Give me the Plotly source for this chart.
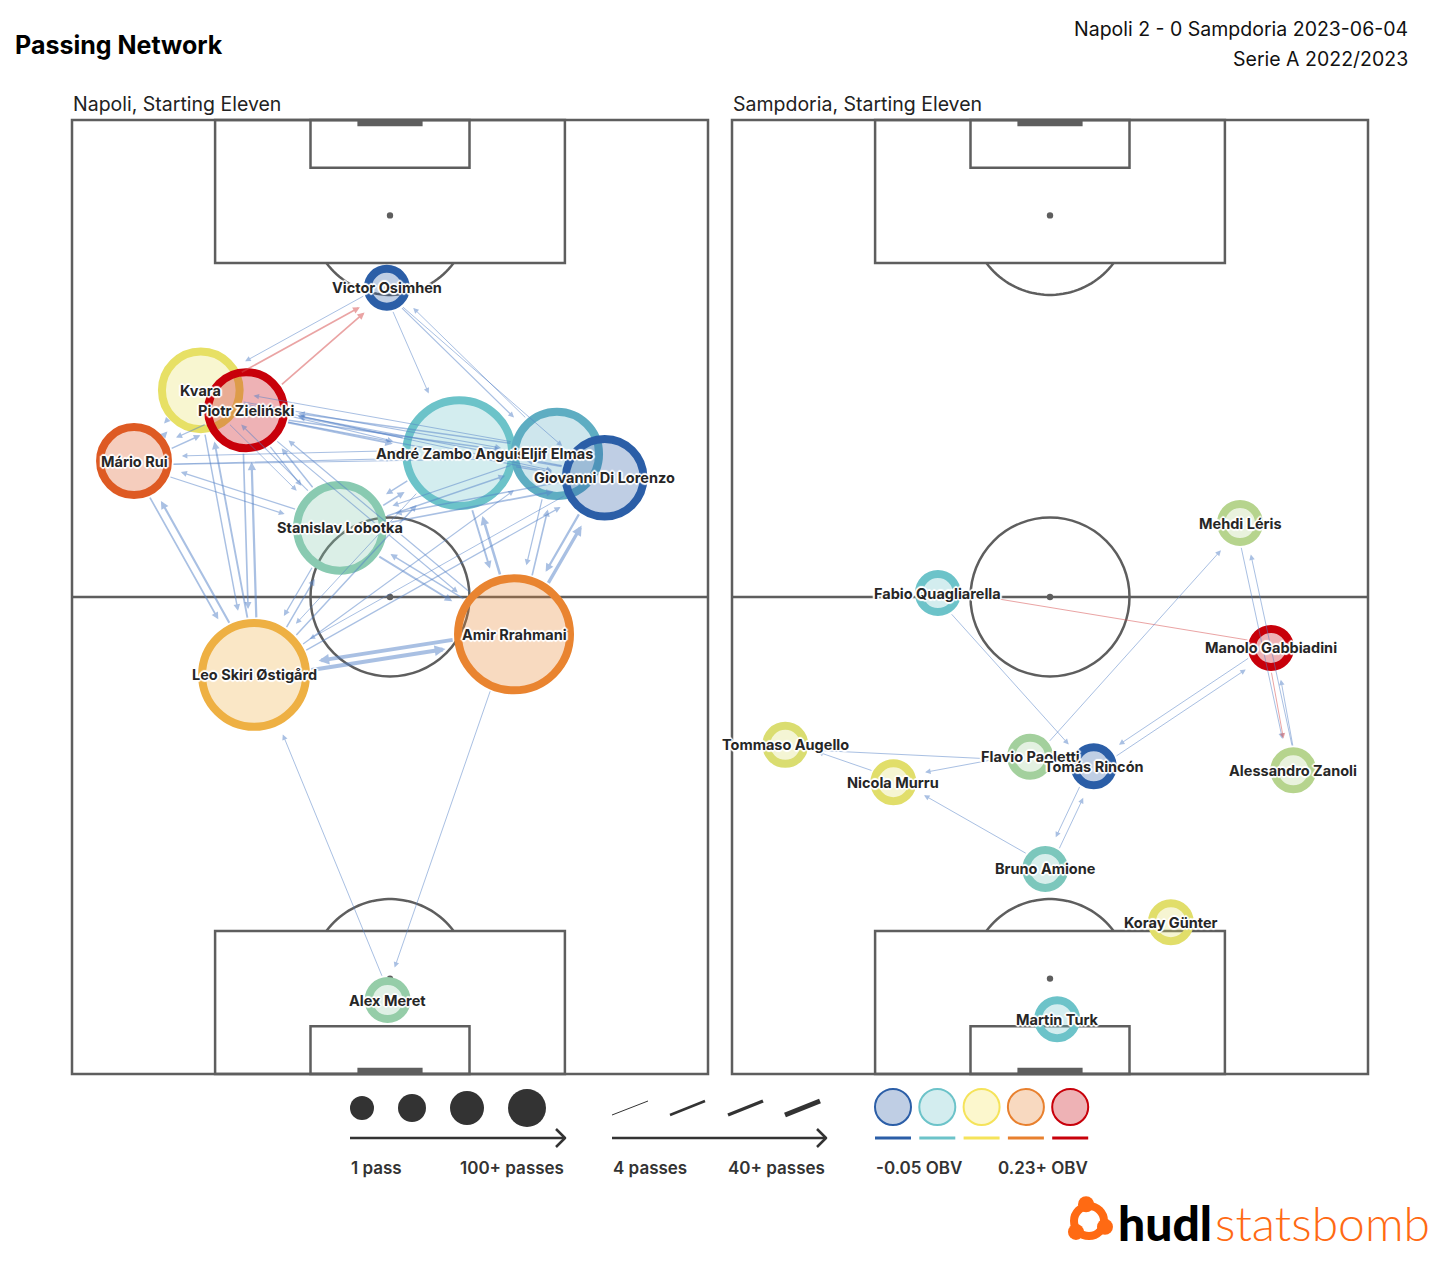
import numpy as np
import plotly.graph_objects as go

W, H = 1440, 1267

# ---------------- data ----------------
nap_codes = ["OS", "KV", "ZI", "MR", "AN", "EL", "DL", "LO", "RR", "OST", "ME"]
nap_names = ["Victor Osimhen", "Kvara", "Piotr Zieliński", "Mário Rui", "André Zambo Anguissa",
             "Eljif Elmas", "Giovanni Di Lorenzo", "Stanislav Lobotka", "Amir Rrahmani",
             "Leo Skiri Østigård", "Alex Meret"]
nap_x = [39.6, 16.2, 21.9, 7.8, 48.7, 61.0, 67.0, 33.7, 55.6, 22.9, 39.7]
nap_y = [98.9, 86.0, 83.5, 77.1, 78.1, 78.0, 75.0, 68.7, 55.3, 50.2, 9.3]
nap_passes = [12, 51, 49, 40, 90, 59, 51, 61, 100, 87, 14]
nap_obv = [-0.05, 0.083, 0.23, 0.181, 0.02, 0.005, -0.05, 0.035, 0.157, 0.126, 0.041]

nap_e_from = ["KV", "ZI", "OS", "OS", "OS", "EL", "OS", "ZI", "AN", "ZI", "EL", "ZI", "DL", "KV", "EL", "KV",
              "KV", "ZI", "LO", "KV", "LO", "MR", "LO", "KV", "MR", "MR", "ZI", "MR", "AN", "MR", "KV", "ZI",
              "ZI", "RR", "AN", "EL", "AN", "DL", "EL", "DL", "OST", "RR", "RR", "AN", "RR", "DL", "RR", "EL",
              "OST", "KV", "OST", "ZI", "OST", "MR", "OST", "LO", "LO", "RR", "LO", "AN", "LO", "DL", "LO", "EL",
              "OST", "AN", "OST", "OST", "DL", "ME", "RR"]
nap_e_to = ["OS", "OS", "KV", "AN", "EL", "OS", "DL", "AN", "ZI", "EL", "ZI", "DL", "ZI", "EL", "KV", "DL",
            "AN", "LO", "ZI", "LO", "KV", "LO", "MR", "MR", "KV", "ZI", "MR", "AN", "MR", "EL", "ZI", "KV",
            "RR", "ZI", "EL", "AN", "DL", "AN", "DL", "EL", "RR", "OST", "AN", "RR", "DL", "RR", "EL", "RR",
            "KV", "OST", "ZI", "OST", "MR", "OST", "LO", "OST", "RR", "LO", "AN", "LO", "DL", "LO", "EL", "LO",
            "AN", "OST", "EL", "DL", "OST", "OST", "ME"]
nap_e_count = [9, 10, 4, 4, 5, 4, 4, 12, 10, 8, 8, 6, 5, 5, 4, 4,
               5, 6, 8, 4, 5, 5, 6, 6, 8, 8, 6, 5, 4, 4, 6, 8,
               5, 6, 5, 4, 6, 8, 5, 6, 30, 28, 18, 12, 25, 15, 10, 6,
               12, 8, 15, 10, 14, 10, 8, 6, 12, 8, 10, 8, 10, 8, 8, 6,
               8, 4, 5, 6, 4, 4, 4]
nap_e_obv = [0.21, 0.22] + [0.01] * 69

sam_codes = ["FQ", "LER", "GAB", "ZAN", "AUG", "MUR", "PAO", "RIN", "AMI", "GUN", "TUR"]
sam_names = ["Fabio Quagliarella", "Mehdi Léris", "Manolo Gabbiadini", "Alessandro Zanoli",
             "Tommaso Augello", "Nicola Murru", "Flavio Paoletti", "Tomás Rincón", "Bruno Amione",
             "Koray Günter", "Martin Turk"]
sam_x = [25.9, 63.9, 67.8, 70.6, 6.7, 20.3, 37.5, 45.5, 39.4, 55.2, 40.9]
sam_y = [60.5, 69.3, 53.6, 38.2, 41.4, 36.7, 39.9, 38.7, 25.8, 19.1, 6.9]
sam_passes = [8, 10, 12, 13, 9, 11, 12, 14, 13, 9, 10]
sam_obv = [0.02, 0.058, 0.23, 0.058, 0.076, 0.08, 0.048, -0.05, 0.028, 0.08, 0.02]

sam_e_from = ["GAB", "FQ", "PAO", "LER", "ZAN", "GAB", "ZAN", "RIN", "GAB", "AUG", "PAO", "MUR", "AMI", "RIN", "AMI"]
sam_e_to = ["FQ", "RIN", "LER", "ZAN", "LER", "ZAN", "GAB", "GAB", "RIN", "PAO", "MUR", "AUG", "MUR", "AMI", "RIN"]
sam_e_count = [4] * 15
sam_e_obv = [0.2, 0.01, 0.01, 0.01, 0.01, 0.2, 0.01, 0.01, 0.01, 0.01, 0.01, 0.01, 0.01, 0.01, 0.01]

OBV_MIN, OBV_MAX = -0.05, 0.23

# ---------------- styling helpers ----------------
scale_hex = ["#2b5ea7", "#6cc3c9", "#f5e35a", "#e8802e", "#c8000a"]


def rgba(h, a):
    h = h.lstrip("#")
    r, g, b = int(h[0:2], 16), int(h[2:4], 16), int(h[4:6], 16)
    return f"rgba({r},{g},{b},{a})"


line_scale = [[i / 4, c] for i, c in enumerate(scale_hex)]
fill_scale = [[i / 4, rgba(c, 0.3)] for i, c in enumerate(scale_hex)]

RING = 8


def radius_px(p):
    return max(23.0, 6.0 * np.sqrt(p))


def edge_w(c):
    c = min(max(c, 4), 40)
    return 1.0 + 4.0 * (c - 4) / 36.0


def P(x, y):
    return x / W, 1 - y / H


FONT = "Inter, 'Noto Sans', sans-serif"
HALO = ("2px 0 1px #fff, -2px 0 1px #fff, 0 2px 1px #fff, 0 -2px 1px #fff, "
        "1px 1px 1px #fff, -1px -1px 1px #fff, 1px -1px 1px #fff, -1px 1px 1px #fff")

fig = go.Figure()
shapes = []
annots = []

# axes: pitch spans px x [x0, x0+636], y [120, 1074]; 1 unit = 7.95 px, padded 1 unit
U = 7.95
for k, x0 in ((1, 72), (2, 732)):
    xa = "xaxis" if k == 1 else "xaxis2"
    ya = "yaxis" if k == 1 else "yaxis2"
    fig.layout[xa] = dict(domain=[(x0 - U) / W, (x0 + 636 + U) / W], range=[-1, 81], visible=False,
                          fixedrange=True, anchor="y" if k == 1 else "y2")
    fig.layout[ya] = dict(domain=[1 - (1074 + U) / H, 1 - (120 - U) / H], range=[-1, 121], visible=False,
                          fixedrange=True, anchor="x" if k == 1 else "x2")


def pitch_shapes(xr, yr):
    lc, lw = "#5e5e5e", 2.5
    out = []

    def rect(x0, y0, x1, y1):
        out.append(dict(type="rect", xref=xr, yref=yr, x0=x0, y0=y0, x1=x1, y1=y1,
                        line=dict(color=lc, width=lw), layer="below"))

    rect(0, 0, 80, 120)
    out.append(dict(type="line", xref=xr, yref=yr, x0=0, y0=60, x1=80, y1=60,
                    line=dict(color=lc, width=lw), layer="below"))
    out.append(dict(type="circle", xref=xr, yref=yr, x0=30, y0=50, x1=50, y1=70,
                    line=dict(color=lc, width=lw), layer="below"))
    rect(18, 0, 62, 18)
    rect(18, 102, 62, 120)
    rect(30, 0, 50, 6)
    rect(30, 114, 50, 120)
    for cy in (12, 60, 108):
        out.append(dict(type="circle", xref=xr, yref=yr, x0=39.6, y0=cy - 0.4, x1=40.4, y1=cy + 0.4,
                        fillcolor=lc, line=dict(width=0), layer="below"))
    a0 = np.degrees(np.arcsin(0.6))
    t = np.radians(np.linspace(a0, 180 - a0, 40))
    pb = "M " + " L ".join(f"{40 + 10 * np.cos(v):.3f},{12 + 10 * np.sin(v):.3f}" for v in t)
    pt = "M " + " L ".join(f"{40 + 10 * np.cos(v):.3f},{108 - 10 * np.sin(v):.3f}" for v in t)
    for p in (pb, pt):
        out.append(dict(type="path", xref=xr, yref=yr, path=p, line=dict(color=lc, width=lw), layer="below"))
    out.append(dict(type="rect", xref=xr, yref=yr, x0=35.9, y0=119.2, x1=44.1, y1=120,
                    fillcolor=lc, line=dict(width=0), layer="below"))
    out.append(dict(type="rect", xref=xr, yref=yr, x0=35.9, y0=0, x1=44.1, y1=0.8,
                    fillcolor=lc, line=dict(width=0), layer="below"))
    return out


shapes += pitch_shapes("x", "y")
shapes += pitch_shapes("x2", "y2")


def network(codes, names, xs, ys, passes, obv, ef, et, ec, eo, xr, yr):
    radii = [radius_px(p) for p in passes]
    fig.add_trace(go.Scatter(
        x=xs, y=ys, xaxis=xr, yaxis=yr, mode="markers", hoverinfo="skip", showlegend=False,
        marker=dict(size=[2 * r - RING for r in radii], color=obv, colorscale=fill_scale,
                    cmin=OBV_MIN, cmax=OBV_MAX, showscale=False, opacity=1,
                    line=dict(color=obv, colorscale=line_scale, cmin=OBV_MIN, cmax=OBV_MAX, width=RING))))
    idx = {c: i for i, c in enumerate(codes)}
    for a, b, c, o in zip(ef, et, ec, eo):
        i, j = idx[a], idx[b]
        dx, dy = xs[j] - xs[i], ys[j] - ys[i]
        L = np.hypot(dx, dy)
        nx, ny = dy / L, -dx / L
        off = 0.5
        w = edge_w(c)
        col = "rgba(215,75,75,0.5)" if o >= 0.1 else "rgba(85,130,200,0.5)"
        annots.append(dict(x=xs[j] + nx * off, y=ys[j] + ny * off, ax=xs[i] + nx * off, ay=ys[i] + ny * off,
                           xref=xr, yref=yr, axref=xr, ayref=yr, text="", showarrow=True,
                           arrowhead=2, arrowsize=1.1 / np.sqrt(w), arrowwidth=w, arrowcolor=col,
                           standoff=radii[j] + 10, startstandoff=radii[i]))
    for n, x, y in zip(names, xs, ys):
        annots.append(dict(x=x, y=y, xref=xr, yref=yr, text=n, showarrow=False,
                           font=dict(family=FONT, size=14.5, color="#262626", weight=700, shadow=HALO)))


network(nap_codes, nap_names, nap_x, nap_y, nap_passes, nap_obv,
        nap_e_from, nap_e_to, nap_e_count, nap_e_obv, "x", "y")
network(sam_codes, sam_names, sam_x, sam_y, sam_passes, sam_obv,
        sam_e_from, sam_e_to, sam_e_count, sam_e_obv, "x2", "y2")


# ---------------- titles ----------------
def ptext(x, y, txt, size, anchor="left", color="#111", weight=400, family=FONT):
    px, py = P(x, y)
    annots.append(dict(x=px, y=py, xref="paper", yref="paper", text=txt, showarrow=False,
                       xanchor=anchor, yanchor="middle",
                       font=dict(family=family, size=size, color=color, weight=weight)))


ptext(13, 45, "Passing Network", 25, weight=700, color="#000")
ptext(1410, 29, "Napoli 2 - 0 Sampdoria 2023-06-04", 19.5, anchor="right")
ptext(1410, 59, "Serie A 2022/2023", 19.5, anchor="right")
ptext(71, 104, "Napoli, Starting Eleven", 19.5, color="#222")
ptext(731, 104, "Sampdoria, Starting Eleven", 19.5, color="#222")


# ---------------- legend ----------------
def pcircle(cx, cy, r, fill, line=None, lw=0):
    x0, y0 = P(cx - r, cy + r)
    x1, y1 = P(cx + r, cy - r)
    shapes.append(dict(type="circle", xref="paper", yref="paper", x0=x0, y0=y0, x1=x1, y1=y1,
                       fillcolor=fill, line=dict(color=line or fill, width=lw)))


def pline(xa, ya, xb, yb, color="#333", width=2.5):
    x0, y0 = P(xa, ya)
    x1, y1 = P(xb, yb)
    shapes.append(dict(type="line", xref="paper", yref="paper", x0=x0, y0=y0, x1=x1, y1=y1,
                       line=dict(color=color, width=width)))


for cx, r in ((362, 12), (412, 14), (467, 17), (527, 19)):
    pcircle(cx, 1108, r, "#333333")
for (xa, xb) in ((350, 565), (612, 826)):
    pline(xa, 1138, xb, 1138)
    pline(xb - 9, 1129, xb + 0.5, 1138.5)
    pline(xb - 9, 1147, xb + 0.5, 1137.5)
for (xa, xb, wd) in ((612, 648, 1), (670, 705, 2.5), (728, 763, 3.5), (785, 820, 5)):
    pline(xa, 1115, xb, 1101, width=wd)
for k, c in enumerate(scale_hex):
    cx = 893 + 44.3 * k
    pcircle(cx, 1107, 18, rgba(c, 0.3), c, 2)
    pline(cx - 18, 1138, cx + 18, 1138, color=c, width=3)

ptext(349, 1168, "1 pass", 17, color="#333", weight=600)
ptext(566, 1168, "100+ passes", 17, anchor="right", color="#333", weight=600)
ptext(611, 1168, "4 passes", 17, color="#333", weight=600)
ptext(827, 1168, "40+ passes", 17, anchor="right", color="#333", weight=600)
ptext(874, 1168, "-0.05 OBV", 17, color="#333", weight=600)
ptext(1090, 1168, "0.23+ OBV", 17, anchor="right", color="#333", weight=600)

# ---------------- logo ----------------
ORANGE = "#ff6a13"
cxl, cyl = 1089, 1221
x0, y0 = P(cxl - 15, cyl + 15)
x1, y1 = P(cxl + 15, cyl - 15)
shapes.append(dict(type="circle", xref="paper", yref="paper", x0=x0, y0=y0, x1=x1, y1=y1,
                   line=dict(color=ORANGE, width=8)))
for ang in (100, 220, 340):
    a = np.radians(ang)
    pcircle(cxl + 17 * np.cos(a), cyl - 17 * np.sin(a), 8, ORANGE)
ptext(1116, 1222, "hudl", 48, color="#000", weight=900, family="Lato, Inter, sans-serif")
ptext(1213, 1222, "statsbomb", 48, color=ORANGE, weight=300, family="Lato, 'Open Sans', sans-serif")

fig.update_layout(width=W, height=H, margin=dict(l=0, r=0, t=0, b=0), paper_bgcolor="white",
                  plot_bgcolor="rgba(0,0,0,0)", shapes=shapes, annotations=annots, showlegend=False)

fig.write_html("out.html", config={"displayModeBar": False},
               post_script="document.body.style.margin='0';")
